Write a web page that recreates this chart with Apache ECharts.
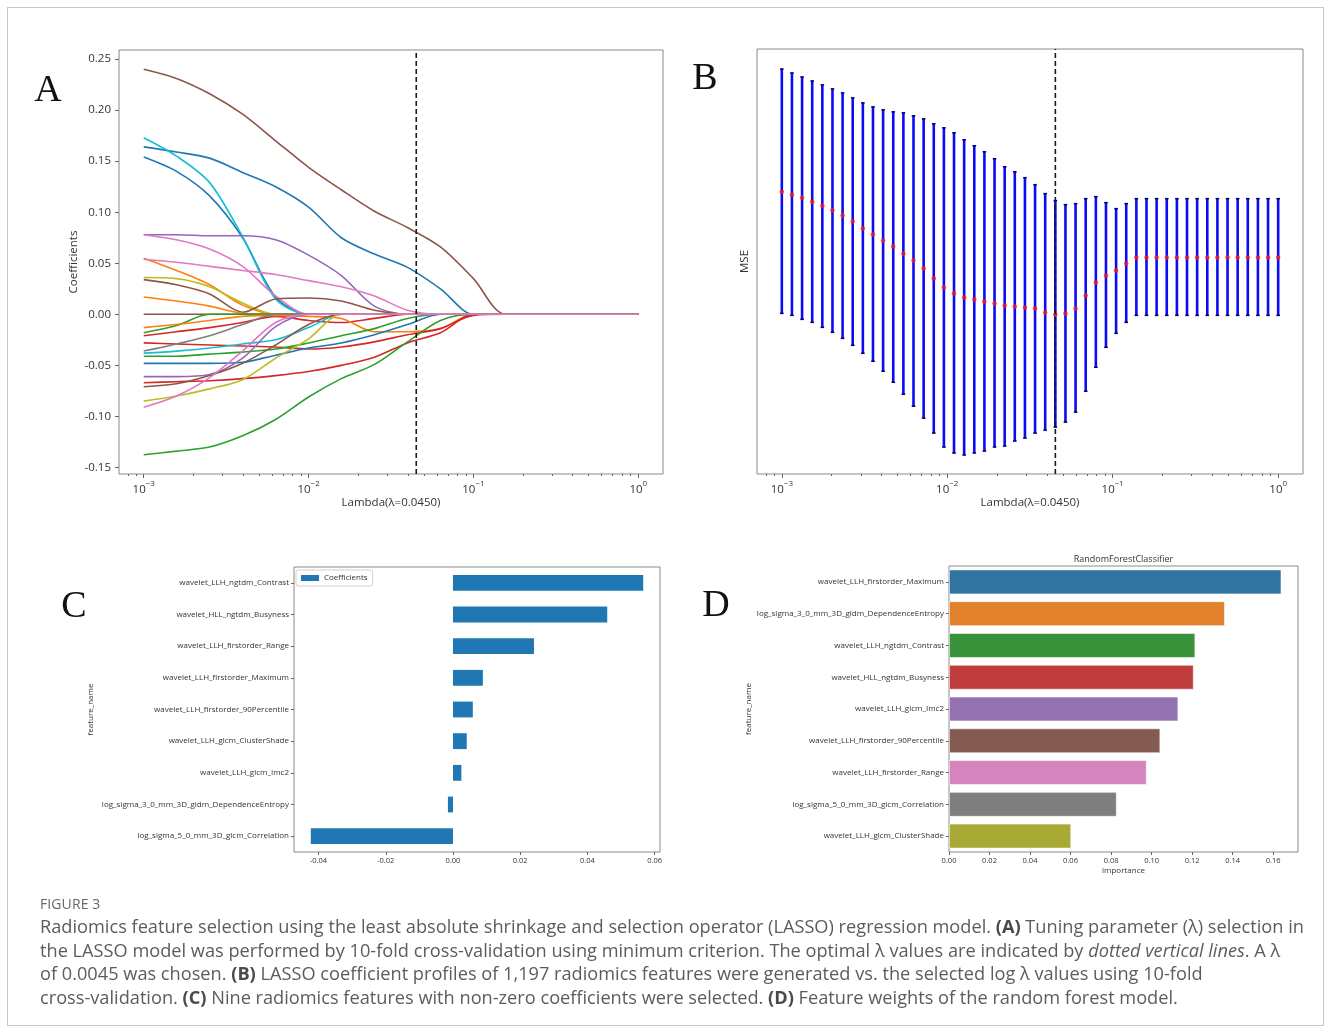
<!DOCTYPE html>
<html><head><meta charset="utf-8">
<script src="https://cdn.jsdelivr.net/npm/echarts@6/dist/echarts.min.js"></script>
<style>
html,body{margin:0;padding:0;background:#fff;}
#wrap{position:relative;width:1330px;height:1032px;overflow:hidden;background:#fff;}
#chart{position:absolute;left:0;top:0;width:1330px;height:1032px;}
#frame{position:absolute;left:7px;top:7px;width:1315px;height:1017px;border:1px solid #c8c8c8;pointer-events:none;}
#cap{position:absolute;left:40px;top:893px;font-family:'Open Sans',sans-serif;color:#5c5c5c;}
.fig{font-size:14px;height:22px;line-height:22px;color:#666;letter-spacing:0.1px;}
.ln{font-size:18.2px;line-height:23.7px;white-space:nowrap;}
.ln b{font-weight:700;color:#4a4a4a;}
</style></head>
<body><div id="wrap"><div id="chart"></div><div id="frame"></div>
<div id="cap">
<div class="fig">FIGURE 3</div>
<div class="ln">Radiomics feature selection using the least absolute shrinkage and selection operator (LASSO) regression model. <b>(A)</b> Tuning parameter (λ) selection in</div>
<div class="ln">the LASSO model was performed by 10-fold cross-validation using minimum criterion. The optimal λ values are indicated by <i>dotted vertical lines</i>. A λ</div>
<div class="ln">of 0.0045 was chosen. <b>(B)</b> LASSO coefficient profiles of 1,197 radiomics features were generated vs. the selected log λ values using 10-fold</div>
<div class="ln">cross-validation. <b>(C)</b> Nine radiomics features with non-zero coefficients were selected. <b>(D)</b> Feature weights of the random forest model.</div>
</div></div>
<script>
// ---------- Panel A: LASSO coefficient paths ----------
const LAMBDA_A = [0.001, 0.00158, 0.00251, 0.00398, 0.00631, 0.01, 0.0158, 0.0251, 0.0398, 0.0631, 0.1, 0.158, 1];
const PATH_COLORS = ['#8c564b','#1f77b4','#1f77b4','#17becf','#9467bd','#e377c2','#ff7f0e','#bcbd22','#8c564b','#ff7f0e',
  '#8c564b','#2ca02c','#d62728','#ff7f0e','#d62728','#7f7f7f','#17becf','#2ca02c','#1f77b4','#9467bd',
  '#d62728','#8c564b','#bcbd22','#e377c2','#2ca02c','#e377c2'];
const PATHS = [
  [0.240,0.231,0.216,0.196,0.170,0.144,0.122,0.101,0.085,0.066,0.035,0,0],
  [0.164,0.159,0.153,0.139,0.125,0.105,0.075,0.059,0.046,0.025,0,0,0],
  [0.154,0.140,0.116,0.075,0.017,0,0,0,0,0,0,0,0],
  [0.173,0.155,0.129,0.076,0.015,0,0,0,0,0,0,0,0],
  [0.078,0.078,0.077,0.077,0.073,0.058,0.038,0.008,0,0,0,0,0],
  [0.078,0.073,0.064,0.047,0.018,0,0,0,0,0,0,0,0],
  [0.055,0.043,0.029,0.009,0,0,0,0,0,0,0,0,0],
  [0.036,0.035,0.027,0.011,0,0,0,0,0,0,0,0,0],
  [0.034,0.029,0.020,0.002,0.015,0.016,0.013,0.004,0,0,0,0,0],
  [0.017,0.013,0.008,0.001,0,0,0,0,0,0,0,0,0],
  [0,0,0,0,0,0,0,0,0,0,0,0,0],
  [-0.018,-0.011,0,0,0,0,0,0,0,0,0,0,0],
  [-0.021,-0.017,-0.013,-0.008,-0.002,-0.006,-0.008,-0.004,0,0,0,0,0],
  [-0.013,-0.010,-0.006,-0.002,-0.001,-0.002,-0.004,-0.017,-0.017,-0.014,0,0,0],
  [-0.028,-0.029,-0.030,-0.031,-0.032,-0.034,-0.032,-0.027,-0.020,-0.014,-0.001,0,0],
  [-0.036,-0.029,-0.021,-0.010,0,0,0,0,0,0,0,0,0],
  [-0.038,-0.036,-0.033,-0.029,-0.025,-0.013,0,0,0,0,0,0,0],
  [-0.041,-0.041,-0.039,-0.037,-0.034,-0.028,-0.021,-0.014,-0.004,0,0,0,0],
  [-0.048,-0.048,-0.048,-0.047,-0.040,-0.033,-0.028,-0.020,-0.010,0,0,0,0],
  [-0.061,-0.061,-0.059,-0.043,-0.012,0,0,0,0,0,0,0,0],
  [-0.067,-0.066,-0.065,-0.063,-0.060,-0.056,-0.050,-0.042,-0.028,-0.018,0,0,0],
  [-0.071,-0.068,-0.060,-0.048,-0.030,-0.010,0,0,0,0,0,0,0],
  [-0.085,-0.080,-0.073,-0.064,-0.043,-0.024,0,0,0,0,0,0,0],
  [-0.091,-0.080,-0.062,-0.036,-0.008,0,0,0,0,0,0,0,0],
  [-0.1375,-0.134,-0.130,-0.119,-0.103,-0.081,-0.063,-0.049,-0.027,-0.006,0,0,0],
  [0.054,0.051,0.047,0.043,0.039,0.033,0.027,0.018,0.004,0,0,0,0]
];
const A_Y_TICKS = [-0.15,-0.10,-0.05,0,0.05,0.10,0.15,0.20,0.25];
const A_Y_RANGE = [-0.1564, 0.2589];
const LOG_TICKS = [-3,-2,-1,0];          // decade exponents shown as 10^n
const LAMBDA_OPT = 0.045;

// ---------- Panel B: cross-validated MSE ----------
const LAMBDA_B = [0.001,0.0011514,0.0013257,0.0015264,0.0017575,0.0020236,0.00233,0.0026827,0.0030888,0.0035565,
  0.0040949,0.0047149,0.0054287,0.0062506,0.0071969,0.0082864,0.009541,0.010985,0.012649,0.014563,
  0.016768,0.019307,0.02223,0.025595,0.029471,0.033932,0.039069,0.044984,0.051795,0.059636,
  0.068665,0.07906,0.09103,0.10481,0.12068,0.13895,0.15999,0.18421,0.2121,0.24421,
  0.28118,0.32375,0.37276,0.42919,0.49417,0.56899,0.65513,0.75431,0.86851,1.0];
const MSE_MEAN = [0.309,0.306,0.303,0.299,0.295,0.290,0.285,0.279,0.272,0.266,
  0.260,0.254,0.247,0.240,0.232,0.222,0.213,0.207,0.203,0.201,
  0.199,0.197,0.195,0.194,0.193,0.192,0.188,0.186,0.187,0.192,
  0.205,0.218,0.225,0.230,0.237,0.243,0.243,0.243,0.243,0.243,
  0.243,0.243,0.243,0.243,0.243,0.243,0.243,0.243,0.243,0.243];
const MSE_UPPER = [0.432,0.428,0.424,0.420,0.416,0.412,0.408,0.403,0.398,0.394,
  0.391,0.389,0.388,0.385,0.382,0.377,0.373,0.368,0.361,0.355,
  0.349,0.342,0.334,0.329,0.323,0.316,0.307,0.300,0.296,0.297,
  0.302,0.304,0.298,0.292,0.297,0.302,0.302,0.302,0.302,0.302,
  0.302,0.302,0.302,0.302,0.302,0.302,0.302,0.302,0.302,0.302];
const MSE_LOWER = [0.187,0.185,0.181,0.178,0.173,0.168,0.162,0.155,0.147,0.139,
  0.129,0.118,0.106,0.094,0.082,0.067,0.053,0.047,0.045,0.047,
  0.049,0.053,0.054,0.059,0.062,0.067,0.070,0.073,0.078,0.088,
  0.109,0.133,0.153,0.167,0.178,0.185,0.185,0.185,0.185,0.185,
  0.185,0.185,0.185,0.185,0.185,0.185,0.185,0.185,0.185,0.185];
const B_Y_RANGE = [0.026, 0.452];

// ---------- Panel C: LASSO coefficients ----------
const C_FEATURES = ['wavelet_LLH_ngtdm_Contrast','wavelet_HLL_ngtdm_Busyness','wavelet_LLH_firstorder_Range',
  'wavelet_LLH_firstorder_Maximum','wavelet_LLH_firstorder_90Percentile','wavelet_LLH_glcm_ClusterShade',
  'wavelet_LLH_glcm_Imc2','log_sigma_3_0_mm_3D_gldm_DependenceEntropy','log_sigma_5_0_mm_3D_glcm_Correlation'];
const C_COEFS = [0.0566,0.0459,0.0241,0.0089,0.0059,0.0041,0.0025,-0.0015,-0.0423];
const C_X_TICKS = [-0.04,-0.02,0,0.02,0.04,0.06];

// ---------- Panel D: random forest importance ----------
const D_FEATURES = ['wavelet_LLH_firstorder_Maximum','log_sigma_3_0_mm_3D_gldm_DependenceEntropy','wavelet_LLH_ngtdm_Contrast',
  'wavelet_HLL_ngtdm_Busyness','wavelet_LLH_glcm_Imc2','wavelet_LLH_firstorder_90Percentile',
  'wavelet_LLH_firstorder_Range','log_sigma_5_0_mm_3D_glcm_Correlation','wavelet_LLH_glcm_ClusterShade'];
const D_IMPORTANCE = [0.1641,0.1362,0.1216,0.1208,0.1132,0.1043,0.0976,0.0828,0.0603];
const D_COLORS = ['#3274a1','#e1812c','#3a923a','#c03d3e','#9372b2','#845b53','#d684bd','#7f7f7f','#a9aa35'];
const D_X_TICKS = [0,0.02,0.04,0.06,0.08,0.10,0.12,0.14,0.16];

// ---------- styling ----------
const FONT = "'Open Sans','DejaVu Sans',sans-serif";
const TXT = '#333';
const TICK = '#666';
const BOX = '#8a8a8a';
const EXP_MIN = -3.15, EXP_MAX = 0.15;
const LOG_MIN = Math.pow(10, EXP_MIN), LOG_MAX = Math.pow(10, EXP_MAX);
const NOLINE = {show:false,onZero:false};

function minorExps(){
  const out=[];
  for(let n=-4;n<=0;n++) for(let k=2;k<=9;k++){ const v=n+Math.log10(k); if(v>EXP_MIN && v<EXP_MAX) out.push(v); }
  return out;
}
function logLabel(v){ const n=Math.round(v); return '{b|10}{s|' + (n<0 ? '\u2212'+Math.abs(n) : String(n)) + '}'; }
const logRich = {
  b:{fontSize:11.5,fontFamily:FONT,color:TXT,lineHeight:16,verticalAlign:'bottom'},
  s:{fontSize:8,fontFamily:FONT,color:TXT,lineHeight:8,verticalAlign:'top'}
};
function displayAxes(grid){
  return [
    {type:'value',gridIndex:grid,position:'bottom',min:EXP_MIN,max:EXP_MAX,
     axisLine:NOLINE,splitLine:{show:false},
     axisTick:{show:true,customValues:LOG_TICKS,length:4,lineStyle:{color:TICK}},
     axisLabel:{customValues:LOG_TICKS,margin:6,formatter:logLabel,rich:logRich},
     name:'Lambda(\u03bb=0.0450)',nameLocation:'middle',nameGap:23,
     nameTextStyle:{fontSize:11.5,fontFamily:FONT,color:TXT}},
    {type:'value',gridIndex:grid,position:'bottom',min:EXP_MIN,max:EXP_MAX,
     axisLine:NOLINE,splitLine:{show:false},
     axisTick:{show:true,customValues:minorExps(),length:2,lineStyle:{color:TICK}},
     axisLabel:{show:false}}
  ];
}

const grids = [
  {left:119,top:50,width:544,height:424,show:true,borderColor:BOX,borderWidth:1},
  {left:757,top:49,width:546,height:425,show:true,borderColor:BOX,borderWidth:1},
  {left:294,top:567,width:366,height:285,show:true,borderColor:BOX,borderWidth:1},
  {left:949,top:566,width:349,height:286,show:true,borderColor:BOX,borderWidth:1}
];

const xAxes = [
  {type:'log',gridIndex:0,min:LOG_MIN,max:LOG_MAX,show:false,axisLine:NOLINE},
  ...displayAxes(0),
  {type:'log',gridIndex:1,min:LOG_MIN,max:LOG_MAX,show:false,axisLine:NOLINE},
  ...displayAxes(1),
  {type:'value',gridIndex:2,min:-0.0473,max:0.0616,axisLine:NOLINE,splitLine:{show:false},
   axisTick:{show:true,customValues:C_X_TICKS,length:3,lineStyle:{color:TICK}},
   axisLabel:{customValues:C_X_TICKS,margin:5,fontSize:7.5,fontFamily:FONT,color:TXT,formatter:v=>v.toFixed(2)}},
  {type:'value',gridIndex:3,min:0,max:0.1723,axisLine:NOLINE,splitLine:{show:false},
   axisTick:{show:true,customValues:D_X_TICKS,length:3,lineStyle:{color:TICK}},
   axisLabel:{customValues:D_X_TICKS,margin:5,fontSize:7.5,fontFamily:FONT,color:TXT,formatter:v=>v.toFixed(2)},
   name:'importance',nameLocation:'middle',nameGap:15,nameTextStyle:{fontSize:8,fontFamily:FONT,color:TXT}}
];

const yAxes = [
  {type:'value',gridIndex:0,min:A_Y_RANGE[0],max:A_Y_RANGE[1],axisLine:NOLINE,splitLine:{show:false},
   axisTick:{show:true,customValues:A_Y_TICKS,length:4,lineStyle:{color:TICK}},
   axisLabel:{customValues:A_Y_TICKS,margin:8,fontSize:11.5,fontFamily:FONT,color:TXT,formatter:v=>v.toFixed(2)},
   name:'Coefficients',nameLocation:'middle',nameGap:39,nameTextStyle:{fontSize:11.5,fontFamily:FONT,color:TXT}},
  {type:'value',gridIndex:1,min:B_Y_RANGE[0],max:B_Y_RANGE[1],axisLine:NOLINE,splitLine:{show:false},
   axisTick:{show:false},axisLabel:{show:false},
   name:'MSE',nameLocation:'middle',nameGap:6,nameTextStyle:{fontSize:11.5,fontFamily:FONT,color:TXT}},
  {type:'category',gridIndex:2,data:C_FEATURES,inverse:true,axisLine:NOLINE,
   axisTick:{show:true,alignWithLabel:true,length:3,lineStyle:{color:TICK}},
   axisLabel:{fontSize:8,fontFamily:FONT,color:TXT,margin:5},
   name:'feature_name',nameLocation:'middle',nameGap:199,nameTextStyle:{fontSize:8,fontFamily:FONT,color:TXT}},
  {type:'category',gridIndex:3,data:D_FEATURES,inverse:true,axisLine:NOLINE,
   axisTick:{show:true,alignWithLabel:true,length:3,lineStyle:{color:TICK}},
   axisLabel:{fontSize:8,fontFamily:FONT,color:TXT,margin:5},
   name:'feature_name',nameLocation:'middle',nameGap:189,nameTextStyle:{fontSize:8,fontFamily:FONT,color:TXT}}
];

const DASH = {type:[5,3],color:'#1a1a1a',width:1.6};

const series = [];
PATHS.forEach((vals,i)=>{
  series.push({type:'line',xAxisIndex:0,yAxisIndex:0,data:LAMBDA_A.map((l,j)=>[l,vals[j]]),
    symbol:'none',showSymbol:false,smooth:0.3,silent:true,
    lineStyle:{width:1.6,color:PATH_COLORS[i]},itemStyle:{color:PATH_COLORS[i]}});
});
// optimal lambda (dashed vertical) in A
series.push({type:'line',xAxisIndex:0,yAxisIndex:0,symbol:'none',silent:true,z:6,
  data:[[LAMBDA_OPT,A_Y_RANGE[0]],[LAMBDA_OPT,A_Y_RANGE[1]]],lineStyle:DASH});

series.push({type:'custom',xAxisIndex:3,yAxisIndex:1,silent:true,
  data:LAMBDA_B.map((l,i)=>[l,MSE_LOWER[i],MSE_UPPER[i]]),
  encode:{x:0,y:[1,2]},
  renderItem(params,api){
    const x=api.value(0);
    const pt=api.coord([x,api.value(2)]), pb=api.coord([x,api.value(1)]);
    const c=1.8;
    return {type:'group',children:[
      {type:'line',shape:{x1:pt[0],y1:pt[1],x2:pb[0],y2:pb[1]},style:{stroke:'#0b0bf5',lineWidth:2.6}},
      {type:'line',shape:{x1:pt[0]-c,y1:pt[1],x2:pt[0]+c,y2:pt[1]},style:{stroke:'#00005a',lineWidth:1.5}},
      {type:'line',shape:{x1:pb[0]-c,y1:pb[1],x2:pb[0]+c,y2:pb[1]},style:{stroke:'#00005a',lineWidth:1.5}}
    ]};
  }});
series.push({type:'scatter',xAxisIndex:3,yAxisIndex:1,silent:true,symbolSize:4.5,
  data:LAMBDA_B.map((l,i)=>[l,MSE_MEAN[i]]),itemStyle:{color:'#ff1a1a'},z:5});
series.push({type:'line',xAxisIndex:3,yAxisIndex:1,symbol:'none',silent:true,z:6,
  data:[[LAMBDA_OPT,B_Y_RANGE[0]],[LAMBDA_OPT,B_Y_RANGE[1]]],lineStyle:DASH});

series.push({type:'bar',name:'Coefficients',xAxisIndex:6,yAxisIndex:2,data:C_COEFS,barWidth:'50%',silent:true,
  itemStyle:{color:'#1f77b4'}});
series.push({type:'bar',xAxisIndex:7,yAxisIndex:3,barWidth:'78%',silent:true,
  data:D_IMPORTANCE.map((v,i)=>({value:v,itemStyle:{color:D_COLORS[i]}})),
  itemStyle:{borderColor:'rgba(255,255,255,0.7)',borderWidth:0.8}});

function letter(t,x,y){ return {type:'text',x:x,y:y,silent:true,
  style:{text:t,fontFamily:"'Liberation Serif','DejaVu Serif',serif",fontSize:38,fill:'#111',align:'center',verticalAlign:'middle'}}; }

const option = {
  animation:false,
  backgroundColor:'#fff',
  grid:grids, xAxis:xAxes, yAxis:yAxes, series:series,
  legend:{data:['Coefficients'],left:296,top:570,orient:'vertical',icon:'rect',itemWidth:18,itemHeight:6,
    borderColor:'#d0d0d0',borderWidth:1,borderRadius:2,padding:[4,5,4,5],selectedMode:false,
    textStyle:{fontSize:8,fontFamily:FONT,color:TXT}},
  graphic:[
    letter('A',48,91), letter('B',705,79), letter('C',74,607), letter('D',716,606),
    {type:'text',x:1123.5,y:559,silent:true,style:{text:'RandomForestClassifier',fontFamily:FONT,fontSize:9,fill:TXT,align:'center',verticalAlign:'middle'}}
  ]
};
const chart = echarts.init(document.getElementById('chart'),null,{renderer:'canvas'});
chart.setOption(option);
</script>
</body></html>
